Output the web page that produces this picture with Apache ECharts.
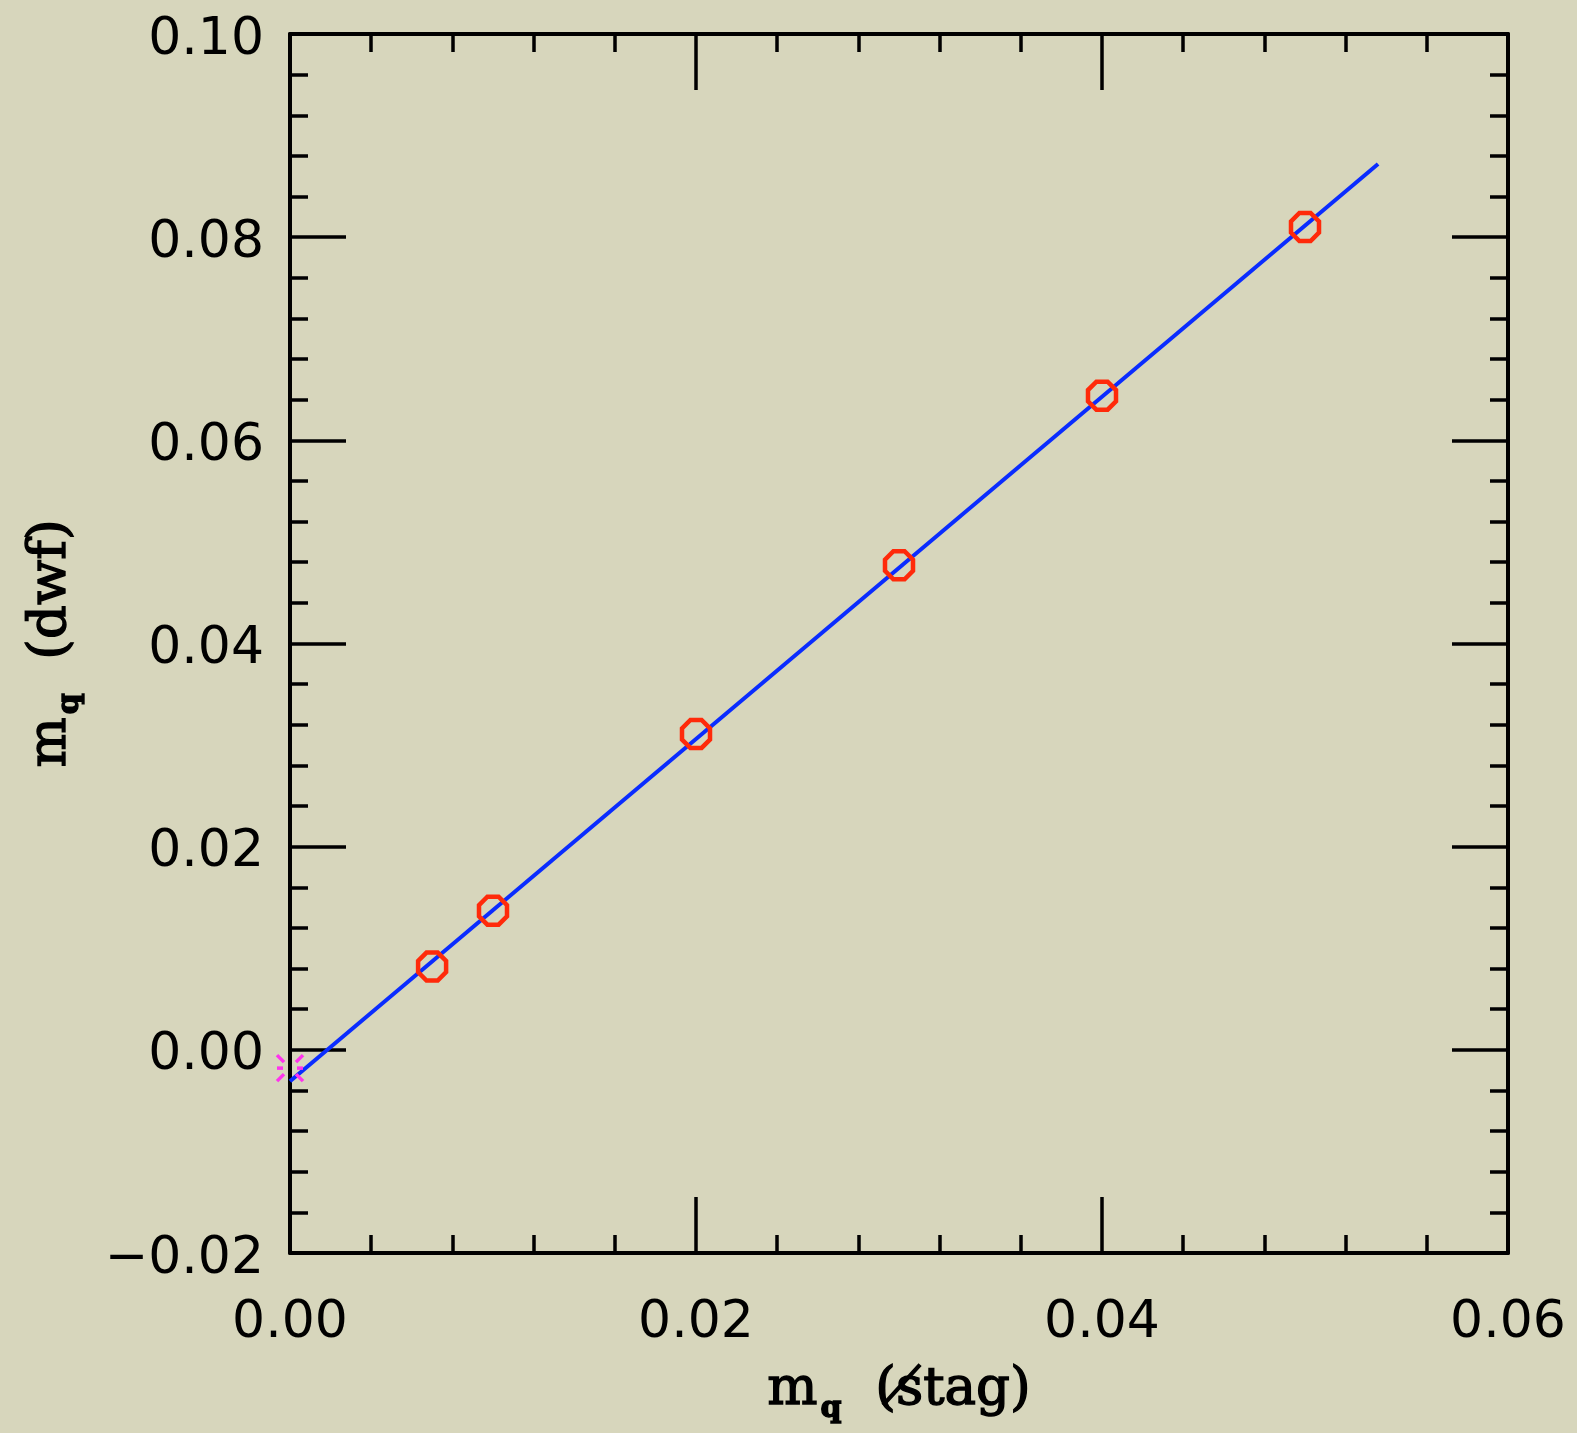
<!DOCTYPE html>
<html>
<head>
<meta charset="utf-8">
<script src="https://cdn.jsdelivr.net/npm/echarts@6/dist/echarts.min.js"></script>
<style>
html,body{margin:0;padding:0;background:#d7d6bc;}
#chart{width:1577px;height:1433px;}
</style>
</head>
<body>
<div id="chart"></div>
<script>
// Data
const xTickLabels = ['0.00', '0.02', '0.04', '0.06'];
const yTickLabels = ['\u22120.02', '0.00', '0.02', '0.04', '0.06', '0.08', '0.10'];
const mqStag = [0.007, 0.010, 0.020, 0.030, 0.040, 0.050];
const mqDwf = [0.0082, 0.0137, 0.0311, 0.0477, 0.0644, 0.0810];
const fitX = [0.0, 0.0536];
const fitY = [-0.0031, 0.0872];
const extrapX = [0.0];
const extrapY = [-0.0018];

const chart = echarts.init(document.getElementById('chart'));

function fmt(v) {
  const s = Math.abs(v).toFixed(2);
  return v < -1e-9 ? '\u2212' + s : s;
}

const lineStyle = { color: '#000', width: 4 };
const tickStyle = { color: '#000', width: 3.5 };
const labelFont = { fontFamily: 'DejaVu Sans', fontSize: 52, color: '#000' };
const titleBase = { fontFamily: 'DejaVu Serif', color: '#000', textBorderColor: '#000', textBorderWidth: 1.4 };
const titleRich = {
  m: Object.assign({ fontSize: 53, lineHeight: 54 }, titleBase),
  q: Object.assign({ fontSize: 30, lineHeight: 32, padding: [38, 0, 0, 3], fontWeight: 'bold' }, titleBase),
  t: Object.assign({ fontSize: 53, lineHeight: 54 }, titleBase)
};

function xAx(pos, labels) {
  return {
    type: 'value', position: pos, min: 0, max: 0.06, interval: 0.02,
    axisLine: { show: true, onZero: false, lineStyle: lineStyle },
    axisTick: { show: true, inside: true, length: 56, lineStyle: tickStyle },
    minorTick: { show: true, splitNumber: 5, length: 18, lineStyle: tickStyle },
    splitLine: { show: false }, minorSplitLine: { show: false },
    axisLabel: labels ? Object.assign({ show: true, margin: 44, formatter: v => {
      const i = Math.round(v / 0.02); return xTickLabels[i] !== undefined ? xTickLabels[i] : fmt(v);
    } }, labelFont) : { show: false },
    name: labels ? '{m|m}{q|q}{t|  (s\u0338tag)}' : '',
    nameLocation: 'middle', nameGap: 110,
    nameTextStyle: { rich: titleRich }
  };
}
function yAx(pos, labels) {
  return {
    type: 'value', position: pos, min: -0.02, max: 0.10, interval: 0.02,
    axisLine: { show: true, onZero: false, lineStyle: lineStyle },
    axisTick: { show: true, inside: true, length: 56, lineStyle: tickStyle },
    minorTick: { show: true, splitNumber: 5, length: 18, lineStyle: tickStyle },
    splitLine: { show: false }, minorSplitLine: { show: false },
    axisLabel: labels ? Object.assign({ show: true, margin: 26, formatter: v => {
      const i = Math.round((v + 0.02) / 0.02);
      return '{a|' + (yTickLabels[i] !== undefined ? yTickLabels[i] : fmt(v)) + '}';
    }, rich: { a: Object.assign({ padding: [12, 0, 0, 0] }, labelFont) } }, labelFont) : { show: false },
    name: labels ? '{m|m}{q|q}{t|  (dwf)}' : '',
    nameLocation: 'middle', nameGap: 212, nameRotate: 90,
    nameTextStyle: { rich: titleRich }
  };
}

const octagon = 'path://M3,0 L7,0 L10,3 L10,7 L7,10 L3,10 L0,7 L0,3 Z';

chart.setOption({
  backgroundColor: '#d7d6bc',
  animation: false,
  grid: { left: 290, right: 69, top: 34, bottom: 180, containLabel: false, outerBoundsMode: 'none' },
  xAxis: [xAx('bottom', true), xAx('top', false)],
  yAxis: [yAx('left', true), yAx('right', false)],
  series: [
    {
      type: 'line', xAxisIndex: 0, yAxisIndex: 0,
      data: fitX.map((x, i) => [x, fitY[i]]),
      symbol: 'none', lineStyle: { color: '#0a2cff', width: 4 }, clip: false, z: 3
    },
    {
      type: 'scatter', xAxisIndex: 0, yAxisIndex: 0,
      data: mqStag.map((x, i) => [x, mqDwf[i]]),
      symbol: octagon, symbolSize: 28,
      itemStyle: { color: 'rgba(0,0,0,0)', borderColor: '#ff2a0a', borderWidth: 4.5, opacity: 1 },
      z: 4
    },
    {
      type: 'custom', xAxisIndex: 0, yAxisIndex: 0,
      data: extrapX.map((x, i) => [x, extrapY[i]]),
      clip: false, z: 5,
      renderItem: function (params, api) {
        const p = api.coord([api.value(0), api.value(1)]);
        const a = 6, b = 13;
        const segs = [
          [[-a, -a], [-b, -b]], [[a, -a], [b, -b]], [[-a, a], [-b, b]], [[a, a], [b, b]],
          [[-b, 0], [-a - 1, 0]], [[a + 1, 0], [b, 0]]
        ];
        return {
          type: 'group',
          children: segs.map(s => ({
            type: 'line',
            shape: { x1: p[0] + s[0][0], y1: p[1] + s[0][1], x2: p[0] + s[1][0], y2: p[1] + s[1][1] },
            style: { stroke: '#ff33ee', lineWidth: 3.5 }
          }))
        };
      }
    }
  ]
});
</script>
</body>
</html>
